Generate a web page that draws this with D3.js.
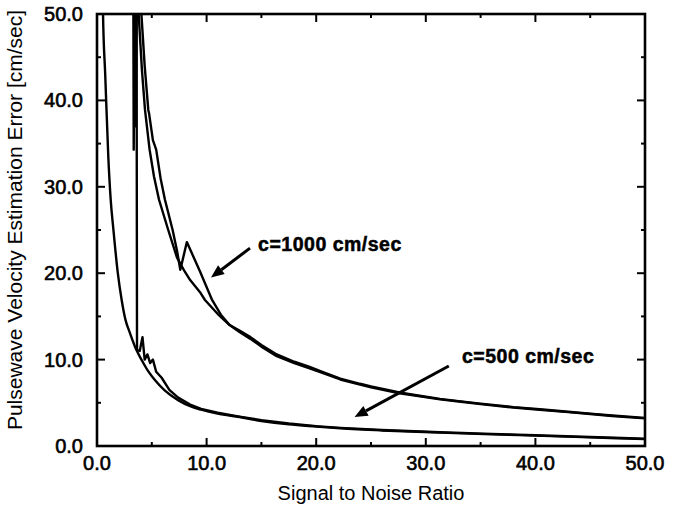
<!DOCTYPE html>
<html><head><meta charset="utf-8">
<script src="https://cdn.jsdelivr.net/npm/d3@7"></script>
<style>
body{margin:0;background:#fff;}
text{font-family:"Liberation Sans",Arial,Helvetica,sans-serif;fill:#000;}
</style></head>
<body><svg id="chart" width="674" height="506"></svg>
<script>
// ---- data ----
const xTicks = [0, 10, 20, 30, 40, 50];
const yTicks = [0, 10, 20, 30, 40, 50];
const xTickLabels = ["0.0","10.0","20.0","30.0","40.0","50.0"];
const yTickLabels = ["0.0","10.0","20.0","30.0","40.0","50.0"];
const xLabel = "Signal to Noise Ratio";
const yLabel = "Pulsewave Velocity Estimation Error [cm/sec]";

// c = 500 cm/sec, smooth run
const c500a = [[0.5,55],[0.55,50],[0.75,43],[1.03,33.5],[1.25,28.5],[1.5,25],[1.9,20],[2.25,16.9],[2.6,14.6],[3.0,13.1],[3.6,11.1],[4.1,9.9],[4.7,8.6],[5.3,7.6],[6.2,6.4],[7.4,5.3],[8.5,4.6],[9.5,4.2],[11,3.75],[13,3.35],[15,2.9],[17.5,2.5],[20,2.25],[22.2,2.05],[26,1.8],[31.3,1.55],[36,1.35],[40,1.2],[45,1.0],[50,0.8]];
// c = 500 cm/sec, noisy run
const c500b = [[3.6,60],[3.65,11.1],[3.9,11.0],[4.15,12.6],[4.35,10.0],[4.6,10.6],[4.85,9.6],[5.1,10.0],[5.4,8.6],[5.9,7.9],[6.6,6.5],[7.4,5.6],[8.5,4.8],[9.5,4.3],[11,3.85],[13,3.4],[15,3.0],[17.5,2.6],[20,2.3],[22.2,2.1],[26,1.85],[31.3,1.6],[36,1.4],[40,1.25],[45,1.05],[50,0.85]];
// c = 1000 cm/sec, inner run
const c1000a = [[3.3,60],[3.35,34.3],[3.45,60],[3.55,37],[3.65,60],[3.8,50],[4.1,43.5],[4.38,38.9],[4.8,34.3],[5.2,31.2],[5.66,28.5],[6.5,25],[7.3,21.8],[8.0,20.2],[8.5,19.2],[9.4,17.8],[9.85,16.9],[11,15.3],[12.1,14.0],[13,13.2],[14,12.4],[15,11.5],[16.4,10.4],[18,9.6],[19.4,9.0],[20.5,8.5],[22.2,7.7],[24,7.1],[25,6.8],[27.6,6.1],[29,5.85],[31.3,5.4],[33,5.15],[35,4.85],[38,4.45],[40.4,4.2],[43,3.92],[45,3.7],[47,3.48],[50,3.2]];
// c = 1000 cm/sec, outer run
const c1000b = [[3.95,60],[4.05,50],[4.35,44],[4.68,38.9],[4.75,38.5],[5.1,35.4],[5.4,34.3],[5.8,31],[6.2,28.5],[6.9,25],[7.3,22.6],[7.6,20.4],[8.2,23.6],[9.4,20.2],[10.5,16.9],[11.3,15.2],[12.1,14.0],[13,13.35],[14,12.6],[15,11.7],[16.4,10.6],[18,9.75],[19.4,9.15],[20.5,8.6],[22.2,7.8],[24,7.2],[25,6.9],[27.6,6.2],[29,5.9],[31.3,5.45],[33,5.2],[35,4.9],[38,4.5],[40.4,4.25],[43,3.97],[45,3.75],[47,3.53],[50,3.25]];

// annotations: label x, label y, arrow start x, start y, tip x, tip y (data units)
const annotLabels = ["c=1000 cm/sec", "c=500 cm/sec"];
const annotPos = [[14.7,22.6, 13.96,22.9, 10.4,19.5],[33.3,9.65, 32.1,9.26, 23.5,3.35]];

// ---- layout ----
const svg = d3.select("#chart");
const W = 674, H = 506;
const m = {left:97, right:W-645, top:14, bottom:H-446};
const x = d3.scaleLinear().domain([0,50]).range([m.left, W-m.right]);
const y = d3.scaleLinear().domain([0,50]).range([H-m.bottom, m.top]);

svg.append("defs").append("clipPath").attr("id","clip")
  .append("rect").attr("x",x(0)).attr("y",y(50)).attr("width",x(50)-x(0)).attr("height",y(0)-y(50));

// curves
const smooth = d3.line().x(d=>x(d[0])).y(d=>y(d[1])).curve(d3.curveMonotoneX);
const jag = d3.line().x(d=>x(d[0])).y(d=>y(d[1])).curve(d3.curveLinear);
const g = svg.append("g").attr("clip-path","url(#clip)");
[[c500a,smooth],[c500b,jag],[c1000a,jag],[c1000b,jag]].forEach(([s,gen])=>{
  g.append("path").datum(s).attr("d",gen).attr("fill","none")
   .attr("stroke","#000").attr("stroke-width",2.4).attr("stroke-linejoin","round");
});

// ticks (inward, all four sides)
const minor = d3.range(5,50,10);
const tg = svg.append("g").attr("stroke","#000").attr("stroke-width",2);
function ticks(vals, len){
  vals.forEach(v=>{
    tg.append("line").attr("x1",x(v)).attr("x2",x(v)).attr("y1",y(0)).attr("y2",y(0)-len);
    tg.append("line").attr("x1",x(v)).attr("x2",x(v)).attr("y1",y(50)).attr("y2",y(50)+len);
    tg.append("line").attr("y1",y(v)).attr("y2",y(v)).attr("x1",x(0)).attr("x2",x(0)+len);
    tg.append("line").attr("y1",y(v)).attr("y2",y(v)).attr("x1",x(50)).attr("x2",x(50)-len);
  });
}
ticks(xTicks, 8);
ticks(minor, 4);

// frame
svg.append("rect").attr("x",x(0)).attr("y",y(50)).attr("width",x(50)-x(0)).attr("height",y(0)-y(50))
  .attr("fill","none").attr("stroke","#000").attr("stroke-width",2.6);

// tick labels
svg.append("g").selectAll("text").data(xTicks).join("text")
  .attr("x",d=>x(d)).attr("y",y(0)+24).attr("text-anchor","middle")
  .attr("font-size",20).attr("stroke","#000").attr("stroke-width",0.6)
  .text((d,i)=>xTickLabels[i]);
svg.append("g").selectAll("text").data(yTicks).join("text")
  .attr("x",x(0)-14).attr("y",d=>y(d)+7).attr("text-anchor","end")
  .attr("font-size",20).attr("stroke","#000").attr("stroke-width",0.6)
  .text((d,i)=>yTickLabels[i]);

// axis titles
svg.append("text").attr("x",(x(0)+x(50))/2).attr("y",500).attr("text-anchor","middle")
  .attr("font-size",20).text(xLabel);
svg.append("text").attr("transform",`translate(22,${(y(0)+y(50))/2 - 10}) rotate(-90)`)
  .attr("text-anchor","middle").attr("font-size",21).text(yLabel);

// annotations
const ag = svg.append("g");
annotPos.forEach((p,i)=>{
  ag.append("text").attr("x",x(p[0])).attr("y",y(p[1])).attr("font-size",19.5)
    .attr("font-weight","bold").attr("letter-spacing",0.5)
    .attr("stroke","#000").attr("stroke-width",0.5).text(annotLabels[i]);
  const x1=x(p[2]), y1=y(p[3]), x2=x(p[4]), y2=y(p[5]);
  const ang=Math.atan2(y2-y1,x2-x1), L=13, Wd=5.5;
  const bx=x2-L*Math.cos(ang), by=y2-L*Math.sin(ang);
  ag.append("line").attr("x1",x1).attr("y1",y1).attr("x2",bx).attr("y2",by)
    .attr("stroke","#000").attr("stroke-width",3);
  const px=-Math.sin(ang), py=Math.cos(ang);
  ag.append("path").attr("d",`M${x2},${y2}L${bx+px*Wd},${by+py*Wd}L${bx-px*Wd},${by-py*Wd}Z`)
    .attr("fill","#000");
});
</script></body></html>
